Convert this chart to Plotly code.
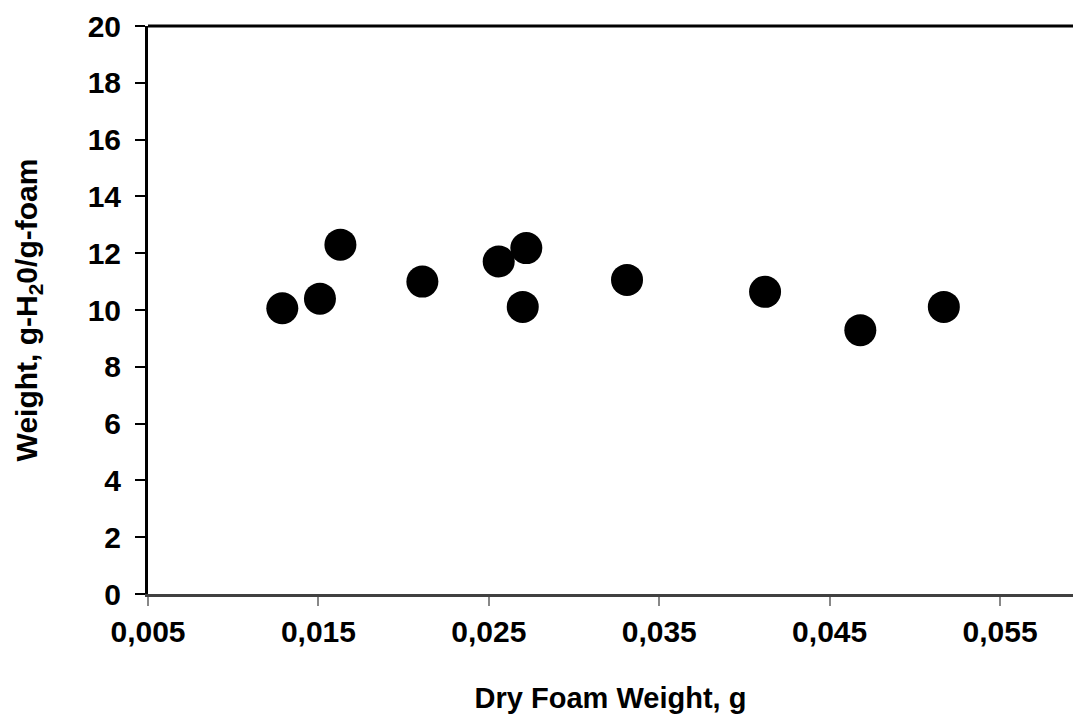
import plotly.graph_objects as go

dry_foam_weight = [0.01288, 0.01509, 0.01629, 0.02110, 0.02558, 0.02720, 0.02699,
                   0.03311, 0.04121, 0.04680, 0.05170]
water_uptake = [10.06, 10.40, 12.30, 11.00, 11.71, 12.18, 10.11,
                11.06, 10.64, 9.29, 10.11]
x_tick_vals = [0.005, 0.015, 0.025, 0.035, 0.045, 0.055]
x_tick_text = ["0,005", "0,015", "0,025", "0,035", "0,045", "0,055"]
y_tick_vals = [0, 2, 4, 6, 8, 10, 12, 14, 16, 18, 20]

FONT = "Liberation Sans, Arial, sans-serif"

fig = go.Figure()
fig.add_trace(go.Scatter(
    x=dry_foam_weight, y=water_uptake, mode="markers",
    marker=dict(size=32, color="black", line=dict(width=0)),
    showlegend=False, cliponaxis=False,
))

fig.update_layout(
    width=1073, height=714,
    margin=dict(l=148, r=0, t=26, b=120),
    paper_bgcolor="white", plot_bgcolor="white",
    font=dict(family=FONT, color="black", size=30),
    xaxis=dict(
        range=[0.005, 0.05928], tickmode="array",
        tickvals=x_tick_vals, ticktext=x_tick_text,
        showgrid=False, zeroline=False,
        showline=True, linecolor="#404040", linewidth=3,
        ticks="outside", ticklen=9, tickwidth=2, tickcolor="#888888",
        tickfont=dict(family=FONT, size=30, color="black", weight="bold"),
        ticklabelstandoff=0,
        title=dict(text="<b>Dry Foam Weight, g</b>", font=dict(family=FONT, size=29, color="black"), standoff=42),
    ),
    yaxis=dict(
        range=[0, 20], tickmode="array", tickvals=y_tick_vals,
        showgrid=False, zeroline=False,
        showline=True, linecolor="black", linewidth=3,
        ticks="outside", ticklen=10, tickwidth=2, tickcolor="black",
        tickfont=dict(family=FONT, size=30, color="black", weight="bold"),
        ticklabelstandoff=8,
        title=dict(text="<b>Weight, g-H<sub>2</sub>0/g-foam</b>", font=dict(family=FONT, size=30, color="black"), standoff=42),
    ),
    shapes=[dict(type="line", xref="paper", yref="paper", x0=0, x1=1, y0=1, y1=1,
                 line=dict(color="black", width=3))],
)

fig.write_html("out.html", config={"displayModeBar": False},
               post_script="document.body.style.margin='0';")
